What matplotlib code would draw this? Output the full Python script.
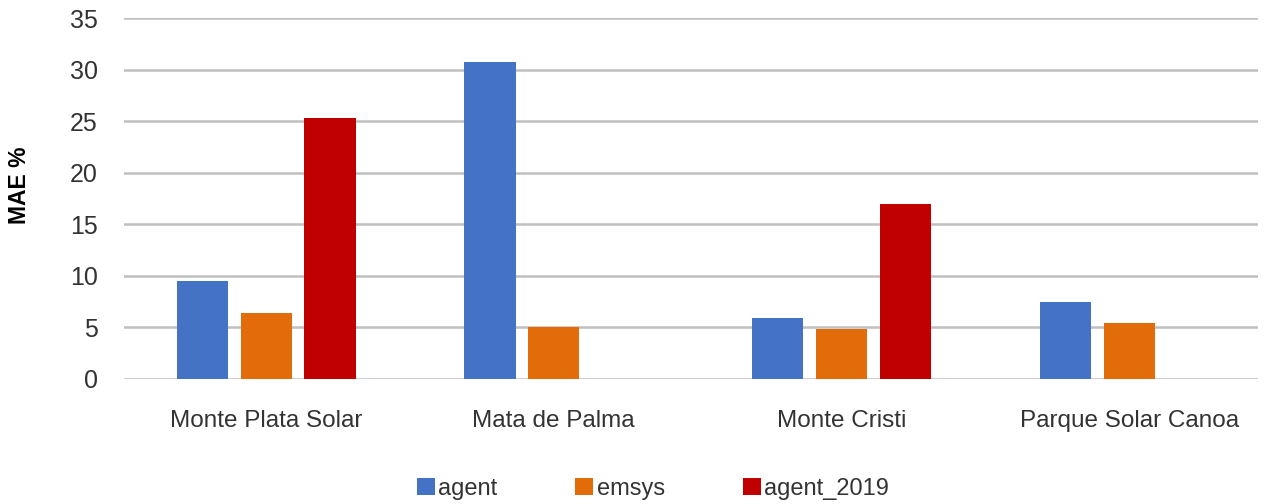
import numpy as np
import matplotlib
matplotlib.use("Agg")
import matplotlib.pyplot as plt

sites = ['Monte Plata Solar', 'Mata de Palma', 'Monte Cristi', 'Parque Solar Canoa']
agent = [9.5, 30.7, 5.9, 7.5]
emsys = [6.4, 5.0, 4.8, 5.4]
agent_2019 = [25.3, np.nan, 17.0, np.nan]
series_names = ['agent', 'emsys', 'agent_2019']
colors = ['#4472C4', '#E36C0A', '#C00000']

plt.rcParams['font.family'] = ['Liberation Sans', 'DejaVu Sans']
text_color = '#333333'

fig = plt.figure(figsize=(12.68, 5.04), dpi=100)
ax = fig.add_axes([124 / 1268, 1 - 379 / 504, (1258 - 124) / 1268, (379 - 18) / 504])

x = np.arange(len(sites))
step = 0.222
width = 0.178
for i, (vals, name, c) in enumerate(zip([agent, emsys, agent_2019], series_names, colors)):
    ax.bar(x + (i - 1) * step, vals, width, color=c, label=name, zorder=3)

ax.set_xlim(-0.494, 3.448)
ax.set_ylim(0, 35)
ax.set_yticks(range(0, 36, 5))
ax.set_xticks(x)
ax.set_xticklabels(sites, fontsize=17.5, color=text_color)
ax.tick_params(axis='y', labelsize=18, labelcolor=text_color, length=0, pad=19)
ax.tick_params(axis='x', length=0, pad=22)
ax.grid(axis='y', color='#bfbfbf', linewidth=1.8, zorder=0)
for s in ax.spines.values():
    s.set_visible(False)

fig.text(20 / 1268, 1 - 185 / 504, 'MAE %', rotation=90, ha='center', va='center',
         fontsize=16.5, fontweight='bold', color='black')

fig.legend(loc='center', bbox_to_anchor=(653 / 1268, 1 - 489 / 504), ncol=3,
           frameon=False, fontsize=17, handlelength=0.76, handleheight=0.76,
           handletextpad=0.15, columnspacing=3.3, labelcolor=text_color)

fig.savefig('out.png', dpi=100)
